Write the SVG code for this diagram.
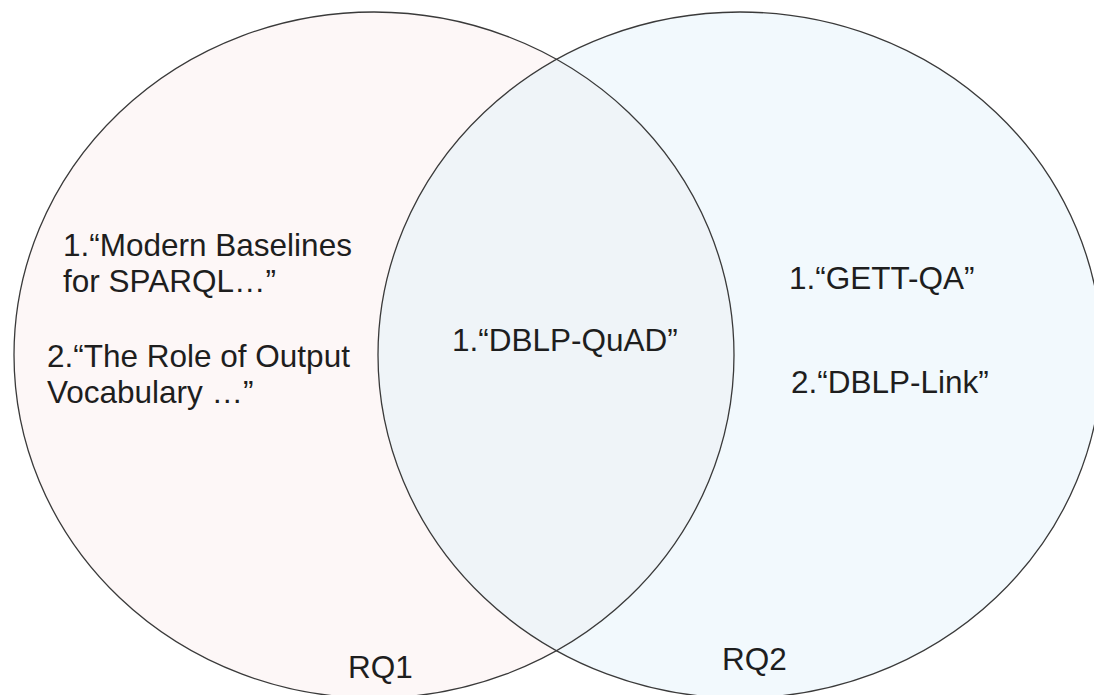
<svg xmlns="http://www.w3.org/2000/svg" width="1094" height="695" viewBox="0 0 1094 695">
  <style>
    .ring { fill: none; stroke: #3a3a3a; stroke-width: 1.3; }
    .lbl { font-family: "Liberation Sans", Arial, sans-serif; font-size: 31.5px; fill: #1e1e1e; }
  </style>
  <defs>
    <clipPath id="clipLeft">
      <ellipse cx="374" cy="355" rx="360" ry="343"/>
    </clipPath>
  </defs>
  <rect width="1094" height="695" fill="#ffffff"/>
  <g id="rq1">
    <ellipse cx="374" cy="355" rx="360" ry="343" fill="#fdf7f7"/>
  </g>
  <g id="rq2">
    <ellipse cx="740" cy="355" rx="362" ry="343" fill="#f2f9fd"/>
  </g>
  <g id="overlap">
    <ellipse cx="740" cy="355" rx="362" ry="343" fill="#eff4f8" clip-path="url(#clipLeft)"/>
  </g>
  <g id="connectors">
    <ellipse class="ring" cx="374" cy="355" rx="360" ry="343"/>
    <ellipse class="ring" cx="740" cy="355" rx="362" ry="343"/>
  </g>
  <g id="rq1-text">
    <text class="lbl" x="63" y="256">1.“Modern Baselines</text>
    <text class="lbl" x="63" y="292">for SPARQL…”</text>
    <text class="lbl" x="47" y="367">2.“The Role of Output</text>
    <text class="lbl" x="47" y="403">Vocabulary …”</text>
    <text class="lbl" x="348" y="678">RQ1</text>
  </g>
  <g id="shared-text">
    <text class="lbl" x="452" y="351">1.“DBLP-QuAD”</text>
  </g>
  <g id="rq2-text">
    <text class="lbl" x="789" y="289">1.“GETT-QA”</text>
    <text class="lbl" x="791" y="393">2.“DBLP-Link”</text>
    <text class="lbl" x="722" y="670">RQ2</text>
  </g>
</svg>
